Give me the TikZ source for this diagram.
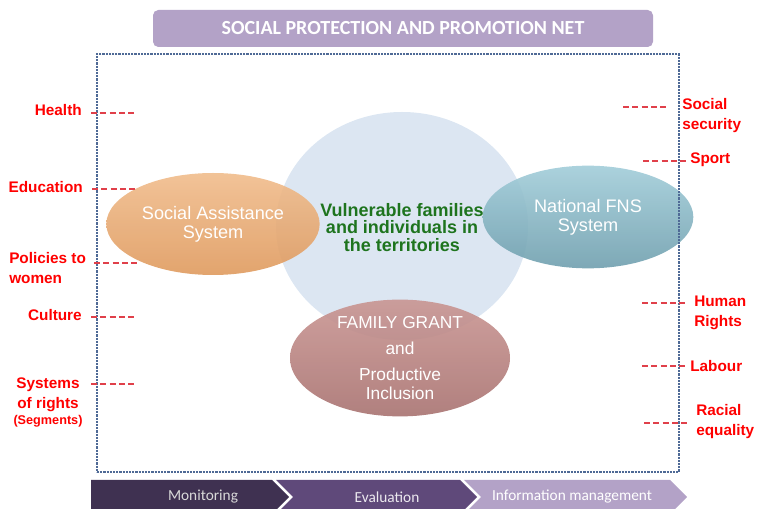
\documentclass[tikz,border=0pt]{standalone}
\usepackage{fontspec}
\setmainfont{Liberation Sans}
\newfontfamily\calibri{Carlito}
\usetikzlibrary{shapes.geometric}
\definecolor{titlecolor}{HTML}{B3A2C7}
\definecolor{framecolor}{HTML}{4F6A96}
\definecolor{netred}{HTML}{FF0000}
\definecolor{dashred}{HTML}{E0404A}
\definecolor{corecolor}{HTML}{DCE6F2}
\definecolor{assistcolor}{HTML}{E8A66C}
\definecolor{assistlight}{HTML}{F0BC8C}
\definecolor{assistdark}{HTML}{DF9A5E}
\definecolor{fnscolor}{HTML}{80B0BE}
\definecolor{fnslight}{HTML}{A2CDD9}
\definecolor{fnsdark}{HTML}{6F9FAE}
\definecolor{grantcolor}{HTML}{B6807E}
\definecolor{grantlight}{HTML}{C99592}
\definecolor{grantdark}{HTML}{A87270}
\definecolor{targetgreen}{HTML}{1E741E}
\definecolor{stepdark}{HTML}{3F3151}
\definecolor{stepmid}{HTML}{5F497A}
\colorlet{steplight}{titlecolor}
\tikzstyle{system} = [
    ellipse,
    inner sep=0pt,
    text=white,
    font=\fontsize{13}{14.25}\selectfont,
    align=center,
    fill opacity=0.9,
    text opacity=1
    ]
\tikzstyle{field} = [
    text=netred,
    font=\bfseries\fontsize{11.5}{15}\selectfont,
    inner sep=0pt
    ]
\tikzstyle{tick} = [dashred, line width=0.9pt, dash pattern=on 4.5pt off 2.5pt]
\tikzstyle{netframe} = [
    draw=framecolor,
    line width=0.8pt,
    dash pattern=on 1.6pt off 0.8pt,
    minimum width=436.5pt,
    minimum height=313.5pt
    ]
\tikzstyle{titlebox} = [
    fill=titlecolor,
    rounded corners=4pt,
    text=white,
    font=\calibri\bfseries\fontsize{15}{18}\selectfont,
    minimum width=375pt,
    minimum height=27.75pt
    ]
\tikzstyle{steptext} = [font=\calibri\fontsize{11.5}{14}\selectfont]

\begin{document}
\begin{tikzpicture}[x=0.75pt, y=-0.75pt]
\useasboundingbox (0,0) rectangle (757,509);
\clip (0,0) rectangle (757,509);

% circles of the net
\node[ellipse, fill=corecolor, minimum width=189pt, minimum height=171pt] (core) at (402,226) {};
\node[system, top color=assistlight, middle color=assistcolor, bottom color=assistdark, minimum width=160pt, minimum height=76.5pt, font=\fontsize{13.6}{14.25}\selectfont] (assist) at (213,224) {Social Assistance\\System};
\node[system, top color=fnslight, middle color=fnscolor, bottom color=fnsdark, minimum width=158pt, minimum height=77pt, font=\fontsize{13.6}{14.25}\selectfont] (fns) at (588,217) {National FNS\\System};
\node[system, top color=grantlight, middle color=grantcolor, bottom color=grantdark, minimum width=165pt, minimum height=79.5pt] (grant) at (400,358) {FAMILY GRANT\\[5pt]and\\[5pt]Productive\\Inclusion};
\node[text=targetgreen, font=\bfseries\fontsize{13.5}{13.1}\selectfont, align=center] (target) at (402,227.5) {Vulnerable families\\and individuals in\\the territories};

\node[netframe] (net) at (388,263) {};
\node[titlebox] (title) at (403,28.5) {SOCIAL PROTECTION AND PROMOTION NET};

% sectors
\node[field, anchor=east] (health) at (82,110) {Health};
\node[field, anchor=east] (education) at (83,187) {Education};
\node[field, anchor=west, align=left] (women) at (9,268) {Policies to\\women};
\node[field, anchor=east] (culture) at (82,315) {Culture};
\node[field, align=center] (rights) at (48,402) {Systems\\of rights\\[-3pt]{\fontsize{9.5}{11}\selectfont(Segments)}};
\node[field, anchor=west, align=left] (security) at (682,116) {Social\\security};
\node[field, anchor=west] (sport) at (690,160) {Sport};
\node[field, anchor=west, align=left] (human) at (694,313) {Human\\Rights};
\node[field, anchor=west] (labour) at (690,366) {Labour};
\node[field, anchor=west, align=left] (racial) at (696,422) {Racial\\equality};

\foreach \name/\xa/\xb/\y in {health/91/135/113, education/92/137/189, women/94/139/263,
    culture/91/135/317, rights/91/135/384, security/623/668/107, sport/643/689/161,
    human/642/686/303, labour/642/688/366, racial/644/689/423}{
    \coordinate (\name a) at (\xa,\y);
    \coordinate (\name b) at (\xb,\y);
    \draw[tick] (\name a) -- (\name b);
}

% management steps
\fill[stepdark] (91,480) -- (272,480) -- (289,497) -- (272,514) -- (91,514) -- cycle;
\fill[stepmid] (276,480) -- (460,480) -- (477,497) -- (460,514) -- (276,514) -- (293,497) -- cycle;
\fill[steplight] (464,480) -- (670,480) -- (687,497) -- (670,514) -- (464,514) -- (481,497) -- cycle;
\node[steptext, text=black!15] (monitoring) at (203,497) {Monitoring};
\node[steptext, text=white!88!stepmid] (evaluation) at (387,497) {Evaluation};
\node[steptext, text=white] (infomgmt) at (572,497) {Information management};
\end{tikzpicture}
\end{document}
